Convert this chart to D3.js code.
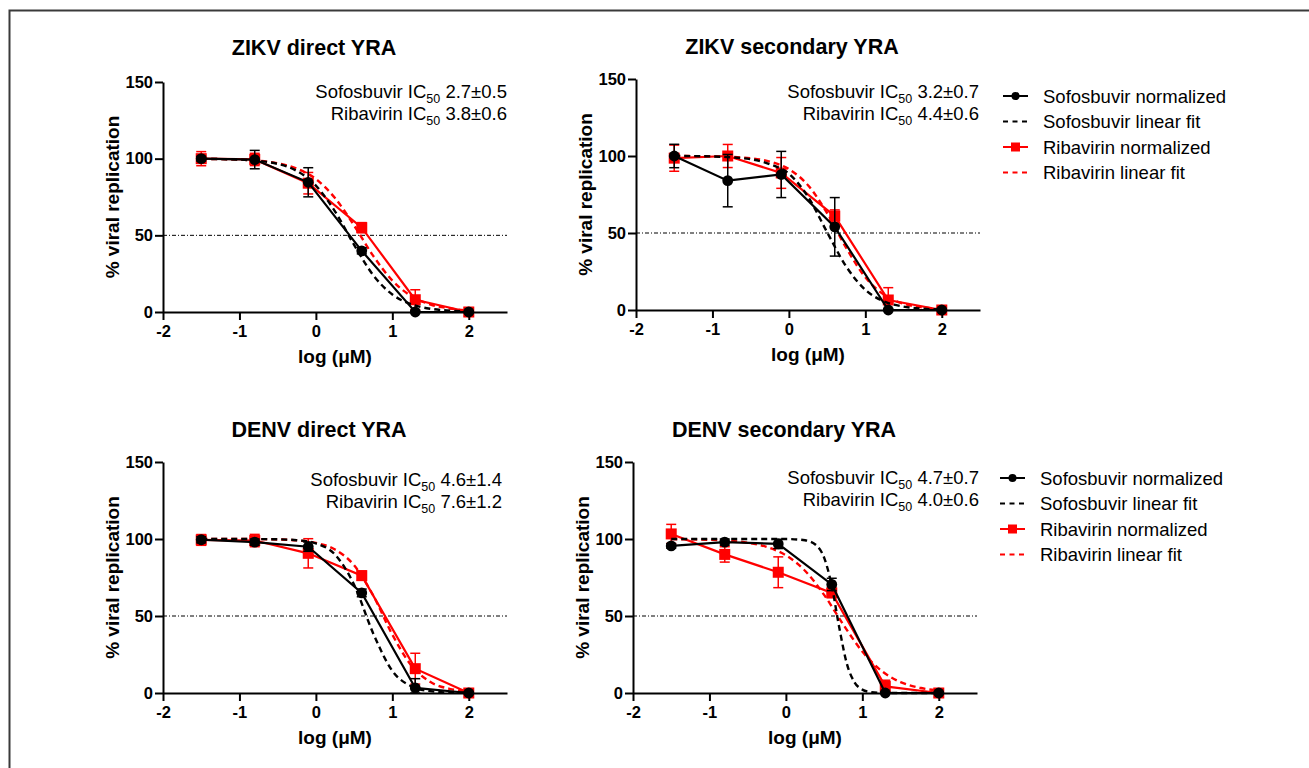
<!DOCTYPE html>
<html>
<head>
<meta charset="utf-8">
<script src="https://cdn.jsdelivr.net/npm/d3@7"></script>
<style>
  body { margin: 0; background: #fff; }
  text { font-family: "Liberation Sans", Arial, sans-serif; }
</style>
</head>
<body>
<script>
// doses, log10(µM)
const xDose = [-1.5, -0.8, -0.1, 0.6, 1.3, 2];
const xTicks = [-2, -1, 0, 1, 2];
const yTicks = [0, 50, 100, 150];

const panelTitles = ["ZIKV direct YRA", "ZIKV secondary YRA", "DENV direct YRA", "DENV secondary YRA"];
const sofIC50 = ["2.7±0.5", "3.2±0.7", "4.6±1.4", "4.7±0.7"];
const ribIC50 = ["3.8±0.6", "4.4±0.6", "7.6±1.2", "4.0±0.6"];
const legendLabels = ["Sofosbuvir normalized", "Sofosbuvir linear fit", "Ribavirin normalized", "Ribavirin linear fit"];

// measured points (% viral replication) and SD
const zikvDirSof = [100, 99.4, 84.6, 39.9, 0, 0];
const zikvDirSofErr = [1.5, 6, 9.5, 2, 1, 1];
const zikvDirRib = [100, 99.5, 84, 55, 8, 0];
const zikvDirRibErr = [4.6, 4, 7, 3.3, 6.5, 1];

const zikvSecSof = [100, 84, 88, 54, 0, 0];
const zikvSecSofErr = [7.6, 17, 15, 19, 1, 1];
const zikvSecRib = [98.6, 100, 89, 61, 6.5, 0];
const zikvSecRibErr = [8.5, 7.5, 10, 4, 8, 1];

const denvDirSof = [99.5, 98, 95, 65, 3.3, 0];
const denvDirSofErr = [2, 2, 3, 2.5, 6, 1];
const denvDirRib = [99.4, 99, 90.7, 76.2, 15.8, 0];
const denvDirRibErr = [3.5, 4, 9.5, 3, 10, 1];

const denvSecSof = [95.5, 98, 96.8, 70.5, 0, 0];
const denvSecSofErr = [1.5, 2, 3, 4, 1, 1];
const denvSecRib = [103.3, 90, 78.4, 65, 4.3, 0];
const denvSecRibErr = [6.2, 5, 10, 3, 4, 1];

// fitted curves
const fitX = [-1.5, -1, -0.5, -0.25, 0, 0.25, 0.5, 0.75, 1, 1.25, 1.5, 1.75, 2];
const fitXSteep = [-1.5, -1, -0.5, 0, 0.25, 0.4, 0.5, 0.6, 0.7, 0.8, 0.9, 1.0, 1.1, 1.25, 1.5, 2];

const zikvDirSofFit = [99.9, 99.4, 96.6, 92.0, 82.4, 65.6, 43.8, 24.0, 11.4, 5.0, 2.1, 0.9, 0.35];
const zikvDirRibFit = [99.9, 99.4, 97.0, 93.5, 86.7, 74.3, 56.4, 36.6, 20.5, 10.3, 4.9, 2.3, 1.0];
const zikvSecSofFit = [100, 99.7, 97.9, 94.7, 88.5, 73.5, 50.5, 28.2, 13.1, 5.5, 2.2, 0.85, 0.33];
const zikvSecRibFit = [100, 99.8, 98.5, 96.4, 91.5, 81.0, 62.9, 40.3, 21.2, 9.7, 4.1, 1.7, 0.67];
const denvDirSofFit = [100, 100, 99.8, 99.2, 97.1, 89.9, 70.3, 38.7, 14.4, 4.3, 1.2, 0.3, 0.1];
const denvDirRibFit = [100, 100, 99.7, 99.1, 97.5, 93.2, 82.9, 63.3, 37.9, 17.8, 7.1, 2.7, 1.0];
const denvSecSofFit = [100, 100, 100, 100, 99.2, 95.8, 87.9, 69.6, 42.0, 18.6, 6.8, 2.2, 0.7, 0.1, 0, 0];
const denvSecRibFit = [99.9, 99.5, 97.6, 94.8, 89.4, 79.4, 63.7, 44.5, 26.9, 14.4, 7.1, 3.4, 1.6];

const panels = [
  { sof: zikvDirSof, sofErr: zikvDirSofErr, rib: zikvDirRib, ribErr: zikvDirRibErr,
    sofFitX: fitX, sofFit: zikvDirSofFit, ribFit: zikvDirRibFit,
    x0: 163, y0: 312, y1: 82, titleX: 314, titleY: 55, noteX: 507, noteY: 98 },
  { sof: zikvSecSof, sofErr: zikvSecSofErr, rib: zikvSecRib, ribErr: zikvSecRibErr,
    sofFitX: fitX, sofFit: zikvSecSofFit, ribFit: zikvSecRibFit,
    x0: 636, y0: 310, y1: 79, titleX: 792, titleY: 54, noteX: 979, noteY: 98 },
  { sof: denvDirSof, sofErr: denvDirSofErr, rib: denvDirRib, ribErr: denvDirRibErr,
    sofFitX: fitX, sofFit: denvDirSofFit, ribFit: denvDirRibFit,
    x0: 163, y0: 693, y1: 462, titleX: 319, titleY: 437, noteX: 502, noteY: 486 },
  { sof: denvSecSof, sofErr: denvSecSofErr, rib: denvSecRib, ribErr: denvSecRibErr,
    sofFitX: fitXSteep, sofFit: denvSecSofFit, ribFit: denvSecRibFit,
    x0: 633, y0: 693, y1: 462, titleX: 784, titleY: 437, noteX: 979, noteY: 484 }
];

const RED = "#ff0000";
const svg = d3.select("body").append("svg").attr("width", 1309).attr("height", 768);

// frame (top and left edges only are visible)
svg.append("path").attr("d", "M9.5,768V10.5H1309")
  .attr("fill", "none").attr("stroke", "#3a3a3a").attr("stroke-width", 2);

function drawSeries(g, x, y, vals, errs, color, shape) {
  const pts = xDose.map((d, i) => ({ x: d, y: vals[i], e: errs[i] }));
  const eb = g.append("g").attr("stroke", color).attr("stroke-width", 1.5);
  pts.forEach(p => {
    const px = x(p.x), top = y(p.y + p.e), bot = y(Math.max(0, p.y - p.e));
    eb.append("line").attr("x1", px).attr("x2", px).attr("y1", top).attr("y2", bot);
    eb.append("line").attr("x1", px - 5).attr("x2", px + 5).attr("y1", top).attr("y2", top);
    eb.append("line").attr("x1", px - 5).attr("x2", px + 5).attr("y1", bot).attr("y2", bot);
  });
  g.append("path").datum(pts)
    .attr("fill", "none").attr("stroke", color).attr("stroke-width", 2.2)
    .attr("d", d3.line().x(d => x(d.x)).y(d => y(d.y)));
  if (shape === "circle") {
    g.selectAll(null).data(pts).join("circle")
      .attr("cx", d => x(d.x)).attr("cy", d => y(d.y)).attr("r", 5.4).attr("fill", color);
  } else {
    g.selectAll(null).data(pts).join("rect")
      .attr("x", d => x(d.x) - 5.5).attr("y", d => y(d.y) - 5.5)
      .attr("width", 11).attr("height", 11).attr("fill", color);
  }
}

function drawFit(g, x, y, xs, ys, color) {
  g.append("path").datum(xs.map((d, i) => [d, ys[i]]))
    .attr("fill", "none").attr("stroke", color).attr("stroke-width", 2.4)
    .attr("stroke-dasharray", "6,4")
    .attr("d", d3.line().x(d => x(d[0])).y(d => y(d[1])).curve(d3.curveMonotoneX));
}

panels.forEach((p, k) => {
  const x = d3.scaleLinear().domain([-2, 2.5]).range([p.x0, p.x0 + 344]);
  const y = d3.scaleLinear().domain([0, 150]).range([p.y0, p.y1]);
  const g = svg.append("g");

  g.append("text").attr("x", p.titleX).attr("y", p.titleY)
    .attr("text-anchor", "middle").attr("font-size", 21.5).attr("font-weight", "bold")
    .text(panelTitles[k]);

  // 50% line
  g.append("line").attr("x1", x(-2)).attr("x2", x(2.5)).attr("y1", y(50)).attr("y2", y(50))
    .attr("stroke", "#000").attr("stroke-width", 1).attr("stroke-dasharray", "4,2,1,2");

  drawFit(g, x, y, fitX, p.ribFit, RED);
  drawSeries(g, x, y, p.rib, p.ribErr, RED, "square");
  drawFit(g, x, y, p.sofFitX, p.sofFit, "#000");
  drawSeries(g, x, y, p.sof, p.sofErr, "#000", "circle");

  const xa = g.append("g").attr("transform", `translate(0,${p.y0})`)
    .call(d3.axisBottom(x).tickValues(xTicks).tickFormat(d => String(d))
      .tickSize(8).tickSizeOuter(0).tickPadding(5));
  const ya = g.append("g").attr("transform", `translate(${p.x0},0)`)
    .call(d3.axisLeft(y).tickValues(yTicks).tickFormat(d => String(d))
      .tickSize(8).tickSizeOuter(0).tickPadding(2));
  [xa, ya].forEach(a => {
    a.selectAll("path, line").attr("stroke", "#000").attr("stroke-width", 2);
    a.selectAll("text").attr("font-size", 16.5).attr("font-weight", "bold").attr("fill", "#000")
      .attr("font-family", "Liberation Sans, Arial, sans-serif");
  });

  g.append("text").attr("x", p.x0 + 172).attr("y", p.y0 + 51)
    .attr("text-anchor", "middle").attr("font-size", 19).attr("font-weight", "bold")
    .text("log (μM)");
  g.append("text")
    .attr("transform", `translate(${p.x0 - 44},${(p.y0 + p.y1) / 2}) rotate(-90)`)
    .attr("text-anchor", "middle").attr("font-size", 19).attr("font-weight", "bold")
    .text("% viral replication");

  [["Sofosbuvir", sofIC50[k]], ["Ribavirin", ribIC50[k]]].forEach((row, j) => {
    const t = g.append("text").attr("x", p.noteX).attr("y", p.noteY + j * 22)
      .attr("text-anchor", "end").attr("font-size", 18.5);
    t.append("tspan").text(row[0] + " IC");
    t.append("tspan").attr("font-size", 12.5).attr("dy", 5).text("50");
    t.append("tspan").attr("dy", -5).text(" " + row[1]);
  });
});

// legends
[[1003, 96, 1043], [1000, 478, 1040]].forEach(([lx, ly, tx]) => {
  const lg = svg.append("g");
  legendLabels.forEach((lab, i) => {
    const cy = ly + i * 25.5;
    const color = i < 2 ? "#000" : RED;
    const ln = lg.append("line").attr("x1", lx).attr("x2", lx + 25).attr("y1", cy).attr("y2", cy)
      .attr("stroke", color).attr("stroke-width", 2);
    if (i % 2 === 1) ln.attr("stroke-dasharray", "5,4.5");
    if (i === 0) lg.append("circle").attr("cx", lx + 12.5).attr("cy", cy).attr("r", 4).attr("fill", color);
    if (i === 2) lg.append("rect").attr("x", lx + 8).attr("y", cy - 4.5).attr("width", 9).attr("height", 9).attr("fill", color);
    lg.append("text").attr("x", tx).attr("y", cy).attr("dy", "0.36em")
      .attr("font-size", 18.5).text(lab);
  });
});
</script>
</body>
</html>
